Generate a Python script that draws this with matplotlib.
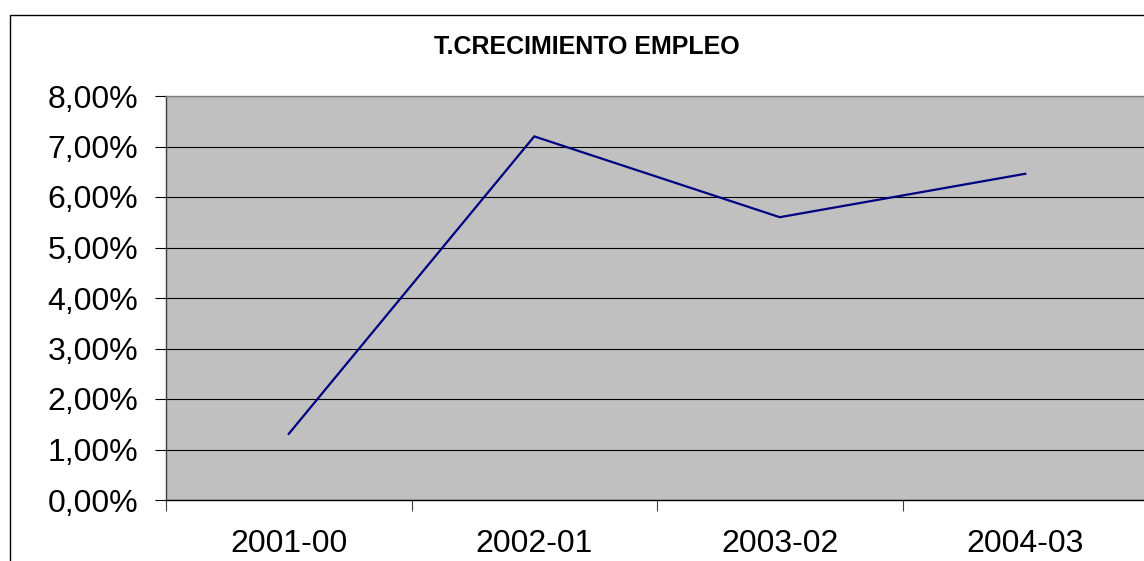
import matplotlib
matplotlib.use("Agg")
import matplotlib.pyplot as plt
from matplotlib.patches import Rectangle
from matplotlib.ticker import FixedLocator, FuncFormatter

categories = ["2001-00", "2002-01", "2003-02", "2004-03"]
values = [1.31, 7.20, 5.60, 6.46]
yticks = [0, 1, 2, 3, 4, 5, 6, 7, 8]
title = "T.CRECIMIENTO EMPLEO"

plt.rcParams['font.family'] = ['Liberation Sans', 'DejaVu Sans']

W, H = 1144, 561
fig = plt.figure(figsize=(W / 100, H / 100), dpi=100)
fig.patch.set_facecolor('white')

# outer chart frame (cut off at right and bottom)
fig.patches.append(Rectangle((9.5 / W, -0.2), 1.2, (H - 14.5) / H + 0.2,
                             transform=fig.transFigure, fill=False,
                             edgecolor='black', linewidth=1.0))

left, right, top, bottom = 166, 1148, 96, 500
ax = fig.add_axes([left / W, 1 - bottom / H, (right - left) / W, (bottom - top) / H])
ax.set_facecolor('#C0C0C0')

x = [i + 0.5 for i in range(len(categories))]
ax.plot(x, values, color='#000080', linewidth=1.6, solid_joinstyle='miter')

ax.set_xlim(0, len(categories))
ax.set_ylim(0, 8)
ax.set_yticks(yticks)
ax.yaxis.set_major_formatter(FuncFormatter(lambda v, p: f"{v:.2f}".replace('.', ',') + "%"))
ax.grid(axis='y', color='black', linewidth=0.8)
ax.set_axisbelow(True)

ax.xaxis.set_major_locator(FixedLocator(list(range(len(categories) + 1))))
ax.xaxis.set_minor_locator(FixedLocator(x))
ax.set_xticklabels([], minor=False)
ax.set_xticklabels(categories, minor=True)
ax.tick_params(axis='x', which='major', length=8, width=0.8, color='#404040', direction='out')
ax.tick_params(axis='x', which='minor', length=0, pad=21, labelsize=23)
ax.tick_params(axis='y', length=8, width=0.8, color='black', direction='out', pad=12, labelsize=23)

for s in ['top', 'right']:
    ax.spines[s].set_color('#808080')
    ax.spines[s].set_linewidth(1.0)
ax.spines['left'].set_color('#404040')
ax.spines['bottom'].set_color('black')
ax.spines['left'].set_linewidth(1.0)
ax.spines['bottom'].set_linewidth(1.0)

fig.text(587 / W, 1 - 47 / H, title, ha='center', va='center',
         fontsize=18, fontweight='bold')

fig.savefig("out.png", dpi=100)
